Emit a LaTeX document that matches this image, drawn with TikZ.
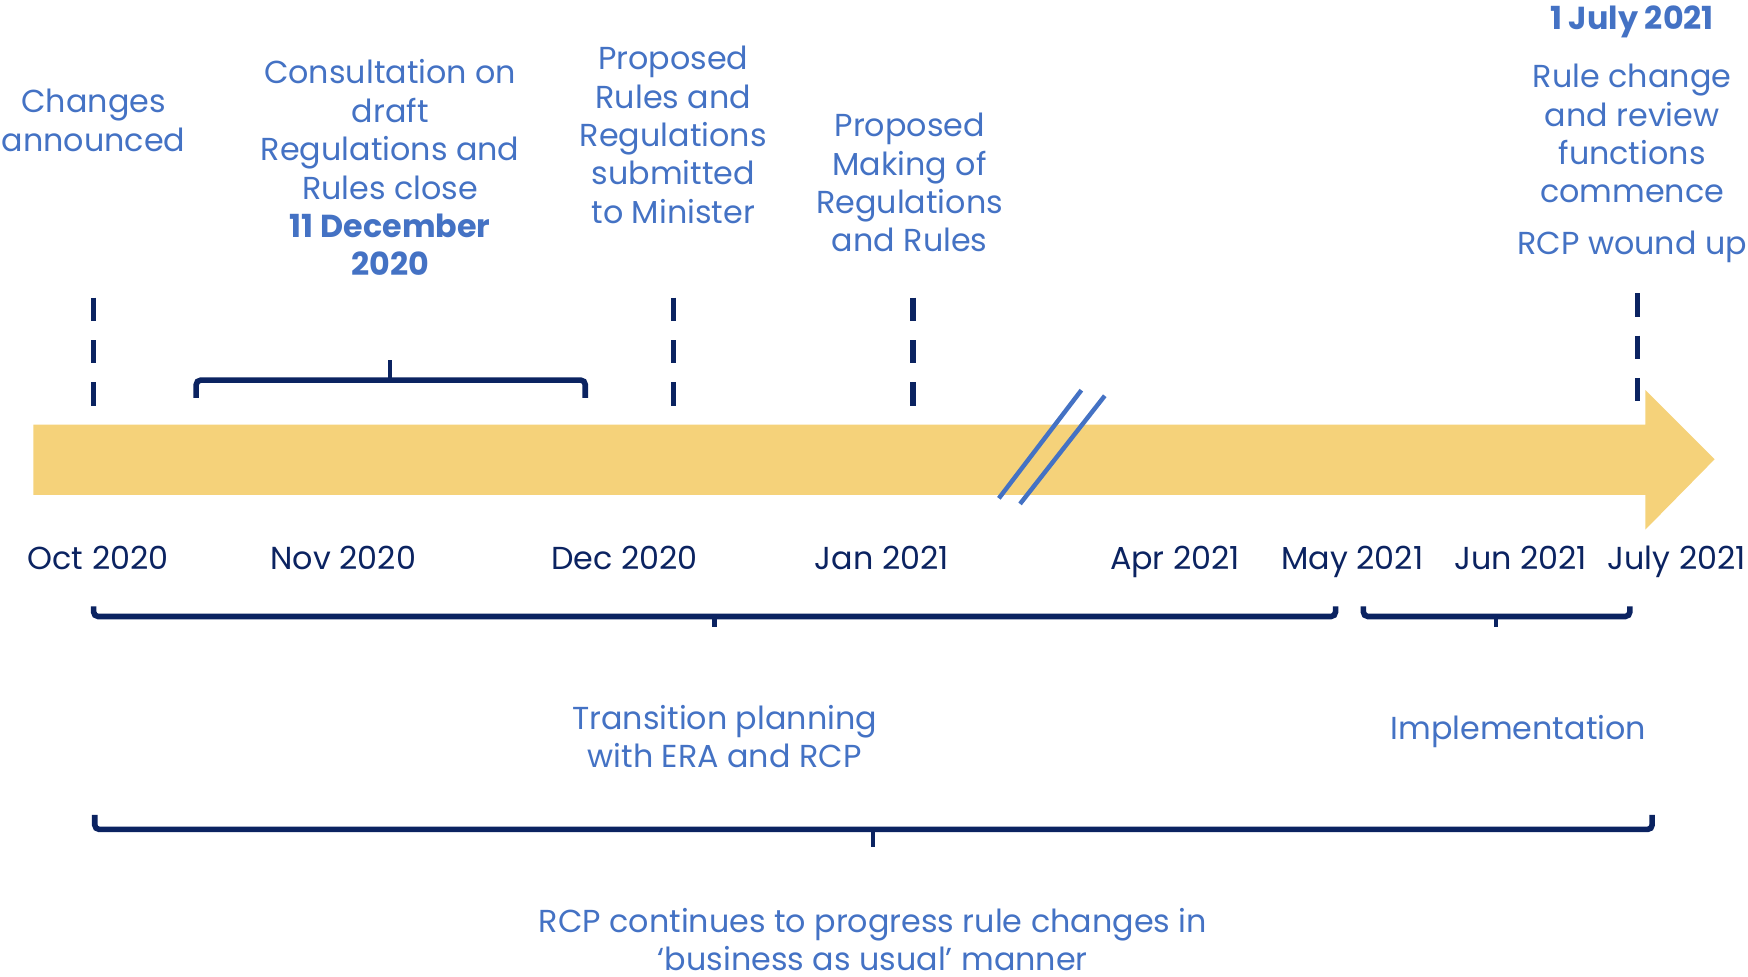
\documentclass[tikz,border=0pt]{standalone}
\usepackage{fontspec}
\setmainfont{Poppins}
\definecolor{tblue}{HTML}{4472C4}
\definecolor{navy}{HTML}{0B2361}
\definecolor{band}{HTML}{F5D27A}
\begin{document}
\begin{tikzpicture}[x=1pt,y=-1pt,
  lbl/.style={text=tblue,align=center,font=\fontsize{28.5}{34.4}\selectfont,inner sep=0pt},
  datelbl/.style={text=navy,font=\fontsize{28.5}{30}\selectfont,inner sep=0pt,anchor=base},
  tick/.style={draw=navy,line width=5pt,dash pattern=on 21pt off 17pt},
  brace/.style={draw=navy,line width=5pt,rounded corners=4pt},
  slash/.style={draw=tblue,line width=4pt}]
\useasboundingbox (0,0) rectangle (1568,875.5);
% timeline arrow
\fill[band] (30,381) -- (1476,381) -- (1476,350) -- (1538,412) -- (1476,475) -- (1476,444) -- (30,444) -- cycle;
% break marks
\coordinate (s1a) at (896,447); \coordinate (s1b) at (970,350);
\coordinate (s2a) at (915,452); \coordinate (s2b) at (991,355);
\draw[slash] (s1a) -- (s1b);
\draw[slash] (s2a) -- (s2b);
% event ticks
\coordinate (t1a) at (84,267); \coordinate (t1b) at (84,365);
\coordinate (t2a) at (604,267); \coordinate (t2b) at (604,365);
\coordinate (t3a) at (819,267); \coordinate (t3b) at (819,365);
\coordinate (t4a) at (1469,263); \coordinate (t4b) at (1469,361);
\draw[tick] (t1a) -- (t1b);
\draw[tick] (t2a) -- (t2b);
\draw[tick] (t3a) -- (t3b);
\draw[tick] (t4a) -- (t4b);
% top labels
\node[lbl] (chg) at (84,108) {Changes\\announced};
\node[lbl] (cons) at (350,150.5) {Consultation on\\draft\\Regulations and\\Rules close\\{\bfseries 11 December}\\{\bfseries 2020}};
\node[lbl] (prop) at (604,121) {Proposed\\Rules and\\Regulations\\submitted\\to Minister};
\node[lbl] (make) at (816,164) {Proposed\\Making of\\Regulations\\and Rules};
\node[lbl,font=\fontsize{28.5}{34.4}\selectfont\bfseries] (jul) at (1464,20) {1 July 2021};
\node[lbl] (rule) at (1464,120) {Rule change\\and review\\functions\\commence};
\node[lbl] (wound) at (1464,221) {RCP wound up};
% consultation brace
\draw[brace] (176,357) -- (176,341) -- (525,341) -- (525,357);
\draw[draw=navy,line width=4pt] (350,343) -- (350,323);
% dates
\node[datelbl] (d1) at (88,511) {Oct 2020};
\node[datelbl] (d2) at (308,511) {Nov 2020};
\node[datelbl] (d3) at (560,511) {Dec 2020};
\node[datelbl] (d4) at (791,511) {Jan 2021};
\node[datelbl] (d5) at (1054,511) {Apr 2021};
\node[datelbl] (d6) at (1213,511) {May 2021};
\node[datelbl] (d7) at (1364,511) {Jun 2021};
\node[datelbl] (d8) at (1504,511) {July 2021};
% lower braces
\draw[brace] (84,544) -- (84,553) -- (1198,553) -- (1198,544);
\draw[draw=navy,line width=4pt] (641,551) -- (641,562);
\draw[brace] (1223,544) -- (1223,553) -- (1462,553) -- (1462,544);
\draw[draw=navy,line width=4pt] (1342,551) -- (1342,562);
\draw[brace] (85,731) -- (85,744) -- (1482,744) -- (1482,731);
\draw[draw=navy,line width=4pt] (783,742) -- (783,760);
% phase labels
\node[lbl] (trans) at (650,660.5) {Transition planning\\with ERA and RCP};
\node[lbl] (impl) at (1362,656) {Implementation};
\node[lbl] (bau) at (783,843) {RCP continues to progress rule changes in\\‘business as usual’ manner};
\end{tikzpicture}
\end{document}
